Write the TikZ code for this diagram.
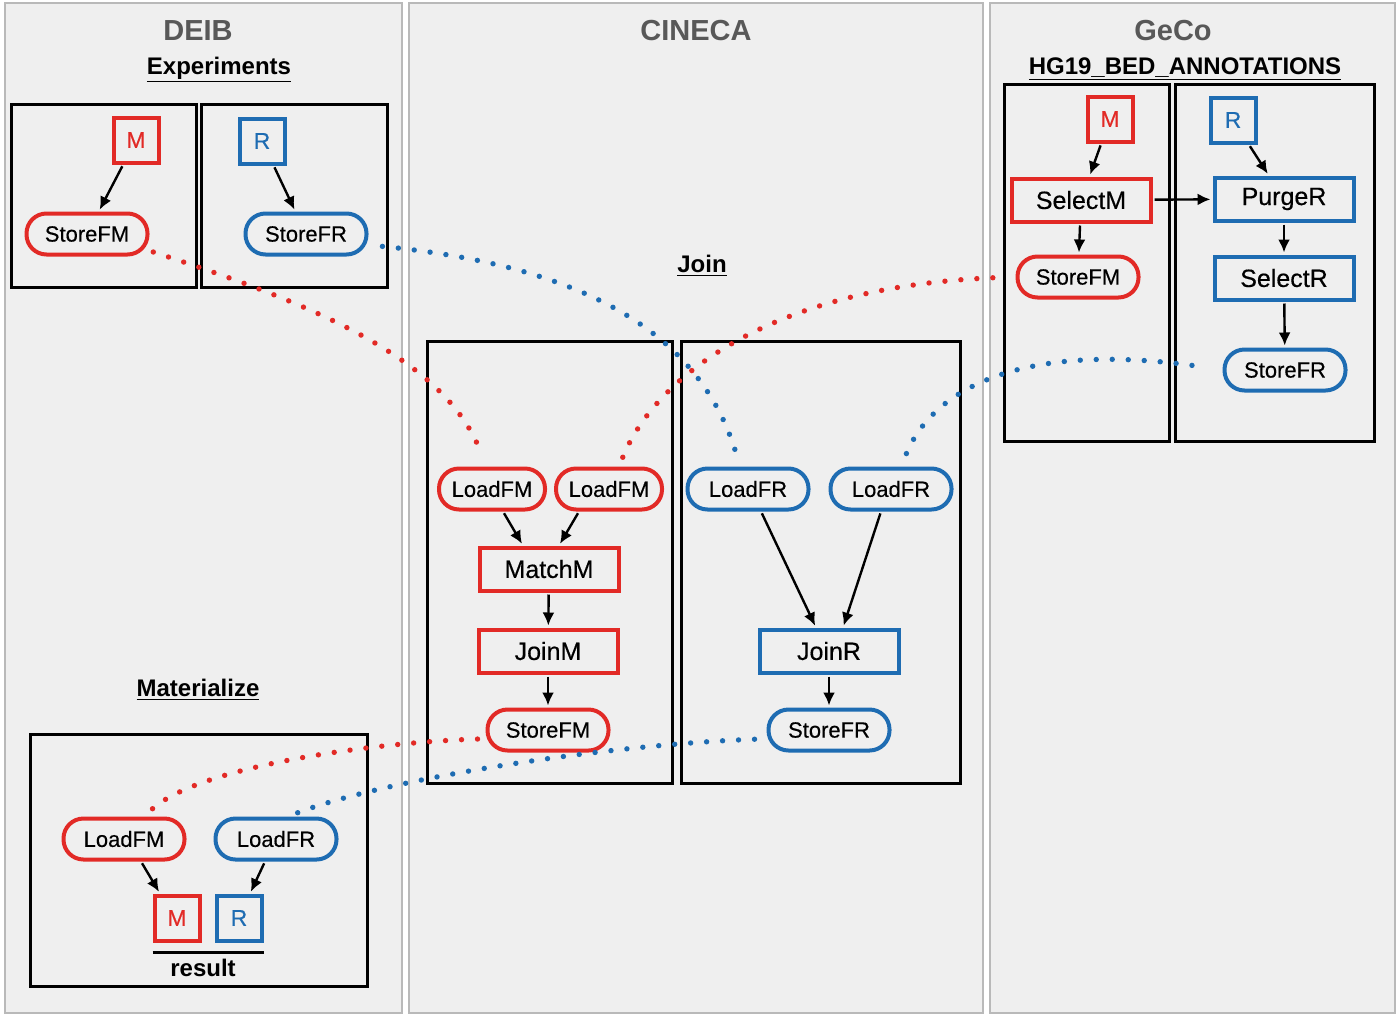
\documentclass[tikz,border=0pt]{standalone}
\usepackage{fontspec}
\setmainfont{Liberation Sans}
\newfontfamily\opfont[FakeBold=0.4]{Liberation Sans}
\usetikzlibrary{arrows.meta}
\definecolor{gmqlred}{RGB}{226,42,38}
\definecolor{gmqlblue}{RGB}{30,108,178}
\definecolor{panelgray}{RGB}{239,239,239}
\definecolor{titlegray}{RGB}{88,88,88}

\begin{document}
\begin{tikzpicture}[x=0.5pt,y=-0.5pt,
    panel/.style={fill=panelgray,draw=gray!55,line width=0.8pt},
    frame/.style={draw=black,line width=1.5pt},
    op/.style={draw,line width=2pt,minimum width=69.5pt,minimum height=21.5pt,inner sep=2pt,font=\opfont\fontsize{12.5}{14}\selectfont},
    io/.style={draw,line width=2pt,rounded corners=10pt,minimum width=60.5pt,minimum height=20.5pt,inner sep=2pt,font=\opfont\fontsize{11}{13}\selectfont},
    ds/.style={draw,line width=2pt,minimum width=22.5pt,minimum height=22.5pt,inner sep=0pt,font=\opfont\fontsize{11.5}{13}\selectfont},
    title/.style={text=titlegray,anchor=base,font=\fontsize{14.5}{17}\selectfont\bfseries},
    sub/.style={anchor=base,font=\fontsize{12}{14}\selectfont\bfseries},
    flow/.style={-{Latex[length=6.5pt,width=6pt]},line width=1.2pt,shorten <=1pt,shorten >=1pt},
    mlink/.style={draw=gmqlred,line width=2.7pt,line cap=round,dash pattern=on 0pt off 8pt},
    rlink/.style={draw=gmqlblue,line width=2.7pt,line cap=round,dash pattern=on 0pt off 8pt}]
    \useasboundingbox (0,0) rectangle (1400,1017);
    \fill[white] (0,0) rectangle (1400,1017);
    \draw[panel] (5,3) rectangle (402,1013);
    \draw[panel] (409,3) rectangle (983,1013);
    \draw[panel] (990,3) rectangle (1395,1013);
    \draw[frame] (11,104) rectangle (196,287);
    \draw[frame] (201,104) rectangle (387,287);
    \draw[frame] (1004,84) rectangle (1169,441);
    \draw[frame] (1175,84) rectangle (1374,441);
    \draw[frame] (427,341) rectangle (672,783);
    \draw[frame] (681,341) rectangle (960,783);
    \draw[frame] (30,734) rectangle (367,986);

    \node[title] (deib) at (198,40) {DEIB};
    \node[title] (cineca) at (696,40) {CINECA};
    \node[title] (geco) at (1173,40) {GeCo};
    \node[sub] (exp) at (219,74) {\underline{Experiments}};
    \node[sub] (hg) at (1185,74) {\underline{HG19\_BED\_ANNOTATIONS}};
    \node[sub] (join) at (702,272) {\underline{Join}};
    \node[sub] (mat) at (198,696) {\underline{Materialize}};

    \node[ds,draw=gmqlred,text=gmqlred] (mD) at (136,140) {M};
    \node[io,draw=gmqlred] (sfmD) at (87,234) {StoreFM};
    \node[ds,draw=gmqlblue,text=gmqlblue] (rD) at (262,141) {R};
    \node[io,draw=gmqlblue] (sfrD) at (306,234) {StoreFR};

    \node[ds,draw=gmqlred,text=gmqlred] (mG) at (1110,119) {M};
    \node[op,draw=gmqlred] (selm) at (1081,200) {SelectM};
    \node[io,draw=gmqlred] (sfmG) at (1078,277) {StoreFM};
    \node[ds,draw=gmqlblue,text=gmqlblue] (rG) at (1233,120) {R};
    \node[op,draw=gmqlblue] (purger) at (1284,199) {PurgeR};
    \node[op,draw=gmqlblue] (selr) at (1284,278) {SelectR};
    \node[io,draw=gmqlblue] (sfrG) at (1285,370) {StoreFR};

    \node[io,draw=gmqlred,minimum width=53pt] (lfm1) at (492,489) {LoadFM};
    \node[io,draw=gmqlred,minimum width=53pt] (lfm2) at (609,489) {LoadFM};
    \node[op,draw=gmqlred] (matchm) at (549,569) {MatchM};
    \node[op,draw=gmqlred] (joinm) at (548,651) {JoinM};
    \node[io,draw=gmqlred] (sfmC) at (548,730) {StoreFM};
    \node[io,draw=gmqlblue] (lfr1) at (748,489) {LoadFR};
    \node[io,draw=gmqlblue] (lfr2) at (891,489) {LoadFR};
    \node[op,draw=gmqlblue] (joinr) at (829,651) {JoinR};
    \node[io,draw=gmqlblue] (sfrC) at (829,730) {StoreFR};

    \node[io,draw=gmqlred] (mlfm) at (124,839) {LoadFM};
    \node[io,draw=gmqlblue] (mlfr) at (276,839) {LoadFR};
    \node[ds,draw=gmqlred,text=gmqlred] (mM) at (177,918) {M};
    \node[ds,draw=gmqlblue,text=gmqlblue] (mR) at (239,918) {R};
    \node[sub] (result) at (203,976) {result};
    \draw[line width=1.2pt] ([yshift=-5pt]mM.south west) -- ([yshift=-5pt]mR.south east);

    \draw[flow] (mD) -- (sfmD);
    \draw[flow] (rD) -- (sfrD);
    \draw[flow] (mG) -- (selm);
    \draw[flow] (selm) -- (purger);
    \draw[flow] (selm) -- (sfmG);
    \draw[flow] (rG) -- (purger);
    \draw[flow] (purger) -- (selr);
    \draw[flow] (selr) -- (sfrG);
    \draw[flow] ([xshift=5.5pt]lfm1.south) -- ([xshift=-13pt]matchm.north);
    \draw[flow] ([xshift=-15pt]lfm2.south) -- ([xshift=5pt]matchm.north);
    \draw[flow] (matchm) -- (joinm);
    \draw[flow] (joinm) -- (sfmC);
    \draw[flow] ([xshift=6.5pt]lfr1.south) -- ([xshift=-6.5pt]joinr.north);
    \draw[flow] ([xshift=-5pt]lfr2.south) -- ([xshift=7pt]joinr.north);
    \draw[flow] (joinr) -- (sfrC);
    \draw[flow] ([xshift=8.5pt]mlfm.south) -- ([xshift=-8.5pt]mM.north);
    \draw[flow] ([xshift=-5.5pt]mlfr.south) -- ([xshift=5.5pt]mR.north);

    \draw[mlink,shorten <=2pt,shorten >=7pt] (sfmD.-15) .. controls (300,300) and (445,355) .. ([xshift=-3pt]lfm1.north);
    \draw[mlink,shorten <=5pt,shorten >=7pt] ([xshift=5pt]lfm2.north) .. controls (655,378) and (770,285) .. (sfmG.west);
    \draw[rlink,shorten <=7pt,shorten >=7pt] (sfrD.-10) .. controls (520,260) and (690,300) .. ([xshift=-4pt]lfr1.north);
    \draw[rlink,shorten <=7pt,shorten >=8pt] ([xshift=5pt]lfr2.north) .. controls (935,385) and (1030,340) .. (sfrG.west);
    \draw[rlink,shorten <=6pt,shorten >=3pt] (sfrC.188) .. controls (600,745) and (380,780) .. ([xshift=6pt]mlfr.north);
    \draw[mlink,shorten <=4pt,shorten >=5pt] (sfmC.188) .. controls (380,742) and (200,765) .. ([xshift=10pt]mlfm.north);
\end{tikzpicture}
\end{document}
